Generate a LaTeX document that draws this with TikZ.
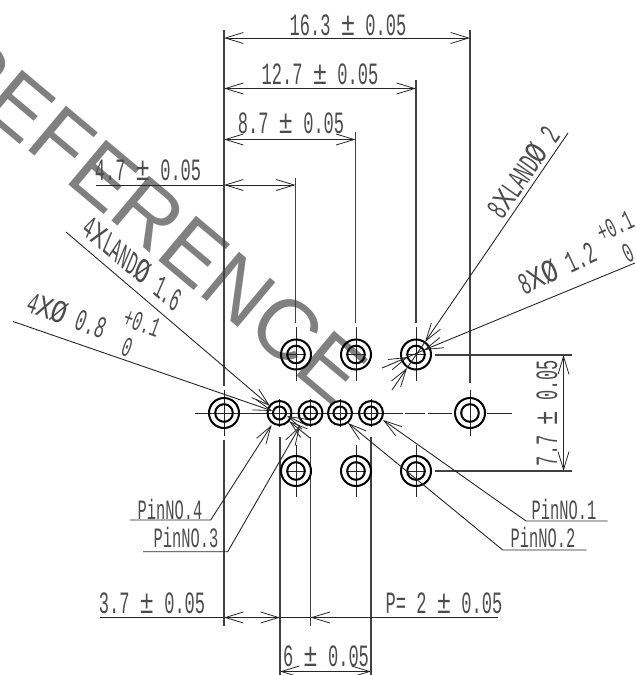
\documentclass[tikz,border=0pt]{standalone}
\usepackage{fontspec}
\usepackage{graphicx}
\setmainfont{Liberation Sans}
\newfontfamily\cadfont[FakeStretch=0.55]{Liberation Mono}
\usetikzlibrary{arrows.meta}
\newcommand{\cx}{\scalebox{1.5}[1]{X}}
\newcommand{\cd}{\scalebox{1.5}[1.05]{Ø}}
\newcommand{\cpm}{\scalebox{1.4}[1.05]{±}}
\tikzset{
  dimline/.style={line width=0.9pt,draw=black!85},
  arr/.style={dimline,-{Straight Barb[length=18pt,width=11pt,line width=0.8pt]}},
  arrs/.style={dimline,{Straight Barb[length=18pt,width=11pt,line width=0.8pt]}-{Straight Barb[length=18pt,width=11pt,line width=0.8pt]}},
  ext/.style={line width=1.1pt,draw=black!75},
  ring/.style={line width=2pt,draw=black},
  centre/.style={line width=0.9pt,draw=black!85},
  dimtext/.style={inner sep=0pt,text=black!70,font=\cadfont\fontsize{31}{31}\selectfont},
  pintext/.style={inner sep=0pt,text=black!70,font=\cadfont\fontsize{28}{28}\selectfont},
}
\begin{document}
\begin{tikzpicture}[x=1pt,y=-1pt]
\path[use as bounding box] (0,0) rectangle (635,675);
\begin{scope}
\clip (0,0) rectangle (635,675);
\node[rotate=-40,text=black!50,inner sep=0pt,font=\fontsize{85}{85}\selectfont] (wm) at (152.5,217) {REFERENCE};
\end{scope}
% named points
\coordinate (H1) at (296,354.5); \coordinate (H2) at (356,354.5); \coordinate (H3) at (416,354.5);
\coordinate (H4) at (296,471); \coordinate (H5) at (356,471); \coordinate (H6) at (416,471);
\coordinate (H7) at (224,413); \coordinate (H8) at (470,413);
\coordinate (P4) at (279.5,413); \coordinate (P3) at (310.5,413); \coordinate (P2) at (340,413); \coordinate (P1) at (371,413);
% extension lines
\draw[ext] (224,30) -- (224,386) (224,440) -- (224,625.5);
\draw[ext] (470,30) -- (470,383);
\draw[ext] (416,80) -- (416,323);
\draw[ext] (355.5,132) -- (355.5,323);
\draw[ext] (295.5,178) -- (295.5,323);
\draw[ext] (280,437) -- (280,675) (310.5,437) -- (310.5,625.5) (371,437) -- (371,675);
\draw[ext] (435,355) -- (572,355) (435,471) -- (572,471);
% centre lines
\draw[centre] (195,413) -- (403,413) (405,413) -- (425,413) (428,413) -- (452,413) (487,413) -- (512,413);
\foreach \p in {H1,H2,H3}{\draw[centre] ([yshift=-26.5pt]\p) -- ([yshift=27.5pt]\p) ([xshift=-10pt]\p) -- ([xshift=10pt]\p);}
\foreach \p in {H4,H5,H6}{\draw[centre] ([yshift=26pt]\p) -- ([yshift=-26pt]\p) ([xshift=-10pt]\p) -- ([xshift=10pt]\p);}
\foreach \p in {H7,H8}{\draw[centre] ([yshift=-23pt]\p) -- ([yshift=23pt]\p);}
\foreach \p in {P1,P2,P3,P4}{\draw[centre] ([yshift=-14pt]\p) -- ([yshift=14pt]\p);}
% holes
\foreach \p in {H1,H2,H3,H4,H5,H6,H7,H8}{\draw[ring] (\p) circle[radius=15pt] (\p) circle[radius=8.8pt];}
\foreach \p in {P1,P2,P3,P4}{\draw[ring] (\p) circle[radius=12pt] (\p) circle[radius=6.5pt];}
% dimensions
\draw[arrs] (224,38) -- (470,38);
\draw[arrs] (224,88.5) -- (416,88.5);
\draw[arrs] (224,139.5) -- (355.5,139.5);
\draw[arrs] (224,185) -- (295.5,185);
\draw[dimline] (96,185) -- (224,185);
\draw[arrs] (563.5,355) -- (563.5,471);
\draw[dimline] (100,617.5) -- (498,617.5);
\draw[arr] (250,617.5) -- (224,617.5);
\draw[arr] (254,617.5) -- (280,617.5);
\draw[arr] (336,617.5) -- (310.5,617.5);
\draw[arrs] (280,671.5) -- (371,671.5);
% leaders
\draw[arr] (568,133) -- (425,342);
\draw[arr] (392,390) -- (407,368);
\draw[dimline] (425,342) -- (407,368);
\draw[arr] (635,263) -- (424,350);
\draw[arr] (382,368) -- (408,357);
\draw[dimline] (424,350) -- (408,357);
\draw[arr] (66,232) -- (270,406);
\draw[arr] (310,438) -- (289,421);
\draw[arr] (13,321.5) -- (272.5,411);
\draw[arr] (308,426) -- (287,416);
\draw[arr] (130,520) -- (210.7,520) -- (271.7,425);
\draw[arr] (143,551.7) -- (227.7,551.7) -- (300,426);
\draw[arr] (607.7,521) -- (526,521) -- (383,420);
\draw[arr] (586.7,550) -- (502.7,550) -- (348,423);
% texts
\node[dimtext] (t163) at (348,25) {16.3 \cpm{} 0.05};
\node[dimtext] (t127) at (320,74) {12.7 \cpm{} 0.05};
\node[dimtext] (t87) at (291,123) {8.7 \cpm{} 0.05};
\node[dimtext] (t47) at (148,170) {4.7 \cpm{} 0.05};
\node[dimtext] (t37) at (152,603) {3.7 \cpm{} 0.05};
\node[dimtext] (tp) at (444,603) {P= 2 \cpm{} 0.05};
\node[dimtext] (t6) at (326,656.5) {6 \cpm{} 0.05};
\node[dimtext,rotate=90] (t77) at (547,413) {7.7 \cpm{} 0.05};
\node[pintext] (p4) at (170,509) {PinNO.4};
\node[pintext] (p3) at (186,537) {PinNO.3};
\node[pintext] (p1) at (564,509) {PinNO.1};
\node[pintext] (p2) at (543,537) {PinNO.2};
\node[dimtext,rotate=55] (l8) at (523,172) {8\cx LAND\cd{} 2};
\node[dimtext,rotate=25] (d8) at (557,268) {8\cx\cd{} 1.2};
\node[pintext,rotate=25] (d8a) at (615,226) {+0.1};
\node[pintext,rotate=25] (d8b) at (628,253) {0};
\node[dimtext,rotate=-40,xslant=-0.3] (l4) at (133,263) {4\cx LAND\cd{} 1.6};
\node[dimtext,rotate=-20] (d4) at (67,315) {4\cx\cd{} 0.8};
\node[pintext,rotate=-20] (d4a) at (142,323) {+0.1};
\node[pintext,rotate=-20] (d4b) at (127,347) {0};
\end{tikzpicture}
\end{document}
